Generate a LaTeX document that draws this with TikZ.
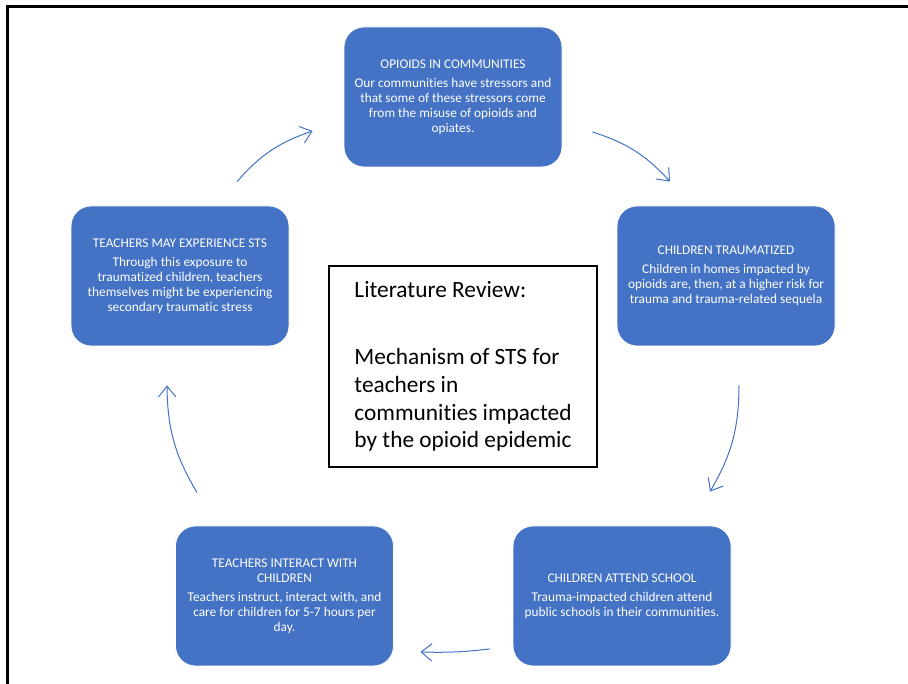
\documentclass[tikz,border=0pt]{standalone}
\usepackage{fontspec}
\setmainfont[Ligatures=NoCommon]{Carlito}
\usetikzlibrary{arrows.meta}
\definecolor{boxblue}{RGB}{68,114,196}

\begin{document}
\begin{tikzpicture}[x=0.75pt, y=0.75pt,
  stage/.style={fill=boxblue, draw=white, line width=0.6pt, rounded corners=15pt,
    minimum width=163.5pt, minimum height=105pt, text=white, align=center,
    font=\fontsize{10}{11.25}\selectfont},
  summary/.style={draw=black, line width=0.9pt, minimum width=201pt, minimum height=150.75pt,
    align=left, font=\fontsize{17.5}{20.8}\selectfont},
  flow/.style={draw=boxblue, line width=0.75pt, -{Straight Barb[length=8pt,width=13pt]}}]

\useasboundingbox (0,0) rectangle (908,684);

% frame
\draw [line width=1.8pt] (7.5,0) -- (7.5,677.5) -- (908,677.5);

\node[stage] (opioids) at (453,587) {OPIOIDS IN COMMUNITIES\\[3pt]Our communities have stressors and\\that some of these stressors come\\from the misuse of opioids and\\opiates.};

\node[stage] (traumatized) at (726,408) {CHILDREN TRAUMATIZED\\[3pt]Children in homes impacted by\\opioids are, then, at a higher risk for\\trauma and trauma-related sequela};

\node[stage] (school) at (622,88) {CHILDREN ATTEND SCHOOL\\[3pt]Trauma-impacted children attend\\public schools in their communities.};

\node[stage] (interact) at (284.5,88) {TEACHERS INTERACT WITH\\CHILDREN\\[3pt]Teachers instruct, interact with, and\\care for children for 5-7 hours per\\day.};

\node[stage] (sts) at (180,408) {TEACHERS MAY EXPERIENCE STS\\[3pt]Through this exposure to\\traumatized children, teachers\\themselves might be experiencing\\secondary traumatic stress};

\node[summary] (review) at (463,317.5) {Literature Review:\\[29.5pt]Mechanism of STS for\\teachers in\\communities impacted\\by the opioid epidemic};

% cycle arrows
\draw [flow] ([shift={(30,-35)}]opioids.east) to[bend left=15] ([shift={(-56,24)}]traumatized.north);
\draw [flow] ([shift={(13,-39)}]traumatized.south) to[bend left=15] ([shift={(88,34)}]school.north);
\draw [flow] ([shift={(-23,-53)}]school.west) to[bend left=4] ([shift={(26.5,-56)}]interact.east);
\draw [flow] ([shift={(-87.5,33)}]interact.north) to[bend left=15] ([shift={(-13,-39)}]sts.south);
\draw [flow] ([shift={(57,24)}]sts.north) to[bend left=15] ([shift={(-31,-34)}]opioids.west);
\end{tikzpicture}
\end{document}
